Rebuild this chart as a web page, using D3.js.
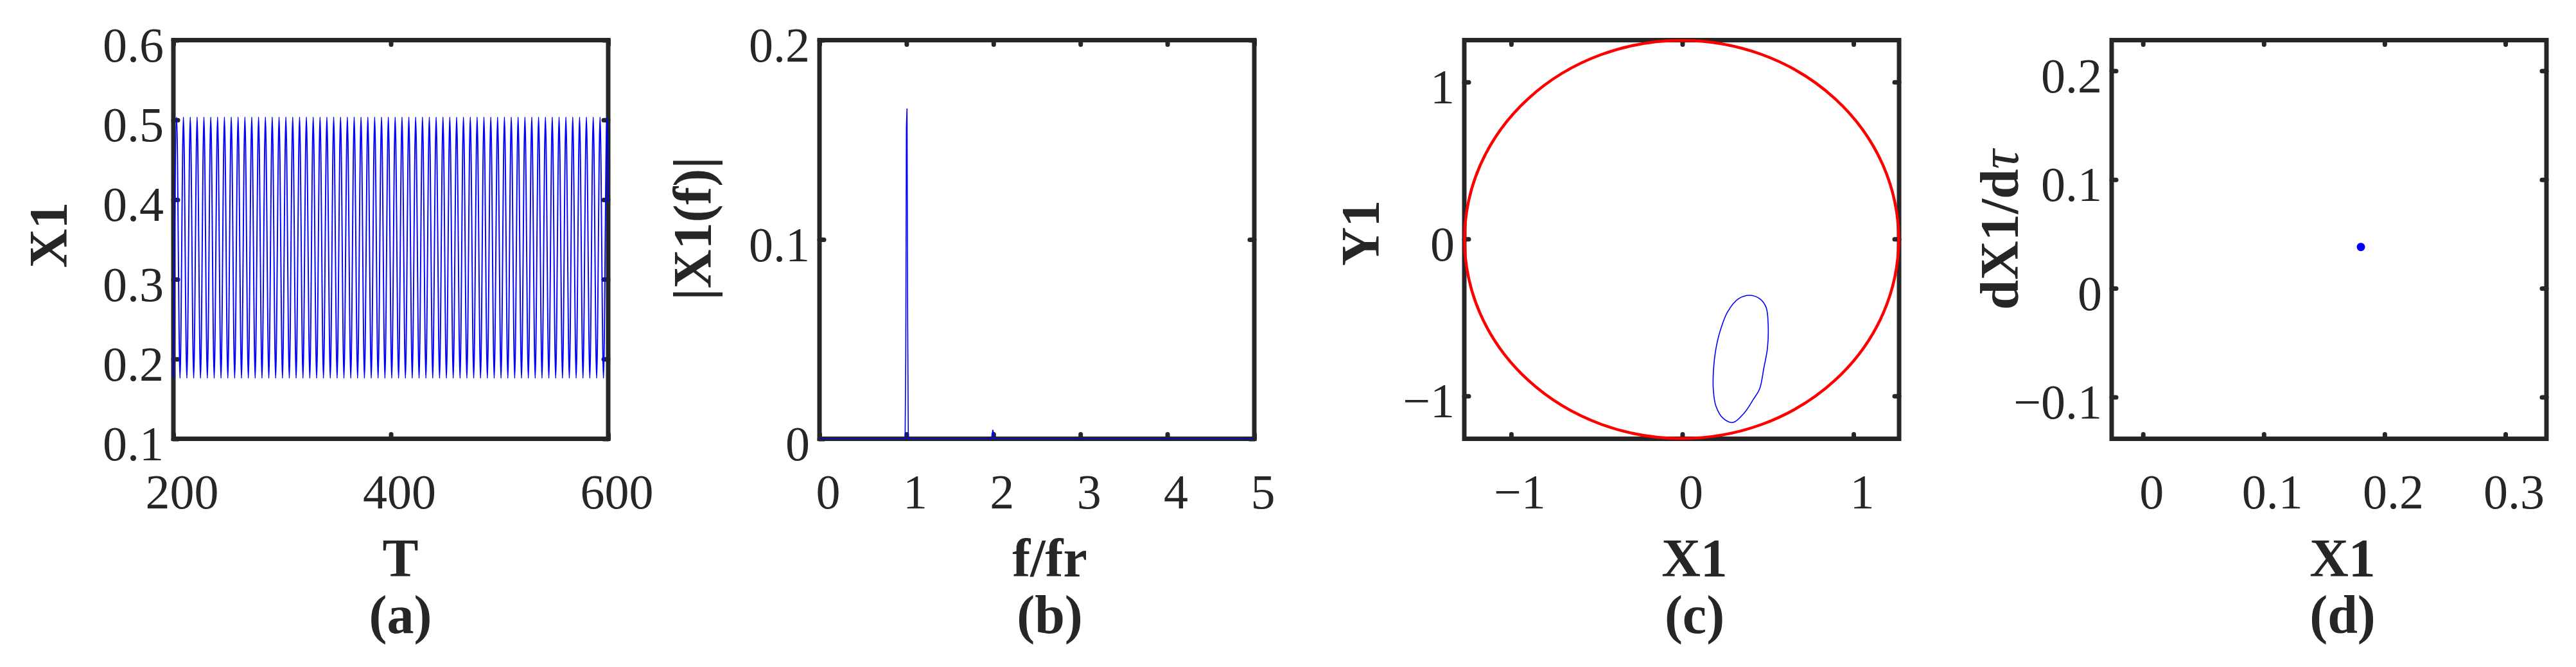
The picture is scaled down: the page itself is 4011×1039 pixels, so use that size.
<!DOCTYPE html>
<head>
<meta charset="utf-8">
<script src="https://d3js.org/d3.v7.min.js"></script>
<style>
  body { margin: 0; background: #fff; }
  text { font-family: "Liberation Serif", "Times New Roman", Times, serif; fill: #262626; }
  .tick-label { font-size: 76px; font-family: "Liberation Serif", "Times New Roman", Times, serif; }
  .axis-label { font-size: 84px; font-weight: bold; }
</style>
</head>
<body>
<svg width="4011" height="1039"></svg>
<script>
// ---- (a) X1 time history: instants of the maxima / minima
var tsPeakT = [202.95, 209.23, 215.52, 221.80, 228.08, 234.37, 240.65, 246.93, 253.22, 259.50,
  265.78, 272.07, 278.35, 284.63, 290.91, 297.20, 303.48, 309.76, 316.05, 322.33,
  328.61, 334.90, 341.18, 347.46, 353.75, 360.03, 366.31, 372.60, 378.88, 385.16,
  391.45, 397.73, 404.01, 410.30, 416.58, 422.86, 429.15, 435.43, 441.71, 448.00,
  454.28, 460.56, 466.84, 473.13, 479.41, 485.69, 491.98, 498.26, 504.54, 510.83,
  517.11, 523.39, 529.68, 535.96, 542.24, 548.53, 554.81, 561.09, 567.38, 573.66,
  579.94, 586.23, 592.51, 598.79];
var tsTroughT = [206.09, 212.37, 218.66, 224.94, 231.22, 237.51, 243.79, 250.07, 256.36, 262.64,
  268.92, 275.21, 281.49, 287.77, 294.05, 300.34, 306.62, 312.90, 319.19, 325.47,
  331.75, 338.04, 344.32, 350.60, 356.89, 363.17, 369.45, 375.74, 382.02, 388.30,
  394.59, 400.87, 407.15, 413.44, 419.72, 426.00, 432.29, 438.57, 444.85, 451.14,
  457.42, 463.70, 469.98, 476.27, 482.55, 488.83, 495.12, 501.40, 507.68, 513.97,
  520.25, 526.53, 532.82, 539.10, 545.38, 551.67, 557.95, 564.23, 570.52, 576.80,
  583.08, 589.37, 595.65];
var tsPeakX = 0.5035, tsTroughX = 0.176;
var tsStart = [200, 0.177], tsEnd = [600, 0.397];

// ---- (b) amplitude spectrum
var specF = [0, 0.9845, 0.9919, 0.9993, 1.0066, 1.014, 1.0214, 1.978, 1.9855, 1.993, 2.0004, 2.0078, 2.015, 5];
var specA = [0, 0, 0.0407, 0.156, 0.1657, 0.0604, 0, 0, 0.002, 0.0045, 0.003, 0.0008, 0, 0];

// ---- (c) orbit X1-Y1 and clearance circle
var orbitX = [0.396, 0.455, 0.490, 0.502, 0.497, 0.477, 0.452, 0.415, 0.365, 0.296, 0.240, 0.196, 0.181, 0.182, 0.195, 0.220, 0.265, 0.327];
var orbitY = [-0.359, -0.383, -0.437, -0.560, -0.700, -0.818, -0.954, -1.022, -1.104, -1.169, -1.144, -1.063, -0.954, -0.840, -0.709, -0.590, -0.464, -0.382];
var circleCenter = [-0.004, -0.003];
var circleRadius = 1.268;

// ---- (d) Poincare point
var poincareX = [0.1804];
var poincareY = [0.038];

// ---- axes
var aXTicks = [200, 400, 600], aYTicks = [0.1, 0.2, 0.3, 0.4, 0.5, 0.6];
var bXTicks = [0, 1, 2, 3, 4, 5], bYTicks = [0, 0.1, 0.2];
var cXTicks = [-1, 0, 1], cYTicks = [-1, 0, 1];
var dXTicks = [0, 0.1, 0.2, 0.3], dYTicks = [-0.1, 0, 0.1, 0.2];
var xTitles = ["T", "f/fr", "X1", "X1"];
var subTitles = ["(a)", "(b)", "(c)", "(d)"];

var svg = d3.select("svg");
svg.append("rect").attr("width", 4011).attr("height", 1039).attr("fill", "#fff");

var ink = "#262626", blue = "#0000ff", red = "#ff0000";
var serif = "'Liberation Serif', 'Times New Roman', Times, serif";
var boxTop = 62.5, boxH = 621, boxW = 677;
var panelLeft = [270, 1276, 2280, 3288];
var xTitleShift = [15, 20, 20, 21];
var yTitleBase = [104, 1107, 2147, 3142];
var yTitleMid = [366, 356, 363, 358];
var fmt = d3.format("~g");

function styleAxis(sel) {
  sel.attr("font-family", serif).attr("font-size", null);
  sel.select(".domain").remove();
  sel.selectAll(".tick line").attr("stroke", ink).attr("stroke-width", 7).attr("stroke-linecap", "round");
  sel.selectAll(".tick text").attr("class", "tick-label").attr("fill", ink).attr("font-family", serif);
}

function panel(i, xDomain, yDomain, xTicks, yTicks) {
  var x0 = panelLeft[i];
  var x = d3.scaleLinear().domain(xDomain).range([x0, x0 + boxW]);
  var y = d3.scaleLinear().domain(yDomain).range([boxTop + boxH, boxTop]);
  var g = svg.append("g");

  g.append("rect").attr("x", x0).attr("y", boxTop).attr("width", boxW).attr("height", boxH)
    .attr("fill", "none").attr("stroke", ink).attr("stroke-width", 7);

  g.append("g").attr("transform", "translate(0," + (boxTop + boxH) + ")")
    .call(d3.axisBottom(x).tickValues(xTicks).tickFormat(fmt).tickSize(-7).tickPadding(0))
    .call(styleAxis)
    .selectAll(".tick text").attr("x", 13).attr("y", 108).attr("dy", null);
  g.append("g").attr("transform", "translate(0," + boxTop + ")")
    .call(d3.axisTop(x).tickValues(xTicks).tickFormat("").tickSize(-7))
    .call(styleAxis);
  g.append("g").attr("transform", "translate(" + x0 + ",0)")
    .call(d3.axisLeft(y).tickValues(yTicks).tickFormat(fmt).tickSize(-7).tickPadding(15))
    .call(styleAxis)
    .selectAll(".tick text").attr("y", 33).attr("dy", null);
  g.append("g").attr("transform", "translate(" + (x0 + boxW) + ",0)")
    .call(d3.axisRight(y).tickValues(yTicks).tickFormat("").tickSize(-7))
    .call(styleAxis);

  var cx = x0 + boxW / 2 + xTitleShift[i];
  g.append("text").attr("class", "axis-label").attr("x", cx).attr("y", 898)
    .attr("text-anchor", "middle").text(xTitles[i]);
  g.append("text").attr("class", "axis-label").attr("x", cx).attr("y", 986)
    .attr("text-anchor", "middle").text(subTitles[i]);
  var yl = g.append("text").attr("class", "axis-label").attr("text-anchor", "middle")
    .attr("transform", "translate(" + yTitleBase[i] + "," + yTitleMid[i] + ") rotate(-90)");
  return { g: g, x: x, y: y, yl: yl };
}

// (a)
var pa = panel(0, [200, 600], [0.1, 0.6], aXTicks, aYTicks);
pa.yl.text("X1");
var tsPts = [tsStart]
  .concat(tsPeakT.map(function (t) { return [t, tsPeakX]; }))
  .concat(tsTroughT.map(function (t) { return [t, tsTroughX]; }))
  .concat([tsEnd])
  .sort(function (p, q) { return p[0] - q[0]; });
pa.g.append("path").datum(tsPts)
  .attr("fill", "none").attr("stroke", blue).attr("stroke-width", 1.9)
  .attr("d", d3.line().x(function (d) { return pa.x(d[0]); }).y(function (d) { return pa.y(d[1]); })
    .curve(d3.curveMonotoneX));

// (b)
var pb = panel(1, [0, 5], [0, 0.2], bXTicks, bYTicks);
pb.yl.text("|X1(f)|");
pb.g.append("path").datum(d3.zip(specF, specA))
  .attr("fill", "none").attr("stroke", blue).attr("stroke-width", 1.6)
  .attr("d", d3.line().x(function (d) { return pb.x(d[0]); }).y(function (d) { return pb.y(d[1]); }));

// (c)
var pc = panel(2, [-1.2735, 1.2664], [-1.273, 1.267], cXTicks, cYTicks);
pc.yl.text("Y1");
pc.g.append("ellipse")
  .attr("cx", pc.x(circleCenter[0])).attr("cy", pc.y(circleCenter[1]))
  .attr("rx", pc.x(circleCenter[0] + circleRadius) - pc.x(circleCenter[0]))
  .attr("ry", pc.y(circleCenter[1]) - pc.y(circleCenter[1] + circleRadius))
  .attr("fill", "none").attr("stroke", red).attr("stroke-width", 4.5);
pc.g.append("path").datum(d3.zip(orbitX, orbitY))
  .attr("fill", "none").attr("stroke", blue).attr("stroke-width", 1.6)
  .attr("d", d3.line().x(function (d) { return pc.x(d[0]); }).y(function (d) { return pc.y(d[1]); })
    .curve(d3.curveCatmullRomClosed.alpha(0.5)));

// (d)
var pd = panel(3, [-0.0259, 0.334], [-0.1384, 0.2282], dXTicks, dYTicks);
pd.yl.append("tspan").text("dX1/d");
pd.yl.append("tspan").attr("font-style", "italic").attr("font-weight", "normal").text("τ");
pd.g.selectAll("circle.pt").data(d3.zip(poincareX, poincareY)).enter().append("circle")
  .attr("class", "pt")
  .attr("cx", function (d) { return pd.x(d[0]); }).attr("cy", function (d) { return pd.y(d[1]); })
  .attr("r", 6.5).attr("fill", blue);
</script>
</body>
